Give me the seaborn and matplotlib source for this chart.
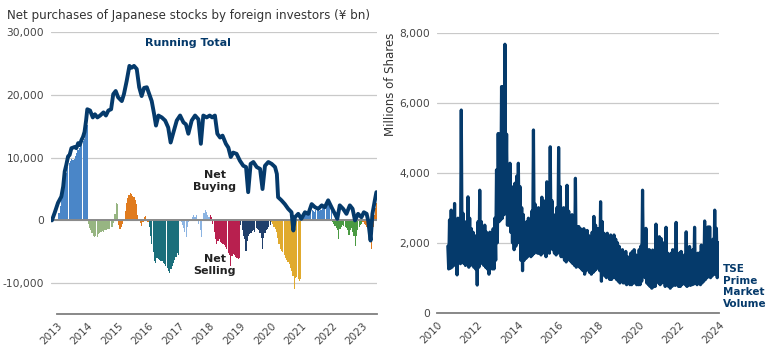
import matplotlib
matplotlib.use('Agg')
import matplotlib.pyplot as plt
import matplotlib.ticker as mticker
import numpy as np
import pandas as pd
import seaborn as sns

sns.set_style('white')
plt.rcParams['font.family'] = ['DejaVu Sans']

NAVY = '#053a6b'
GRID = '#c9c9c9'
AXIS = '#7f7f7f'
TXT = '#454545'

# --- left panel: cumulative net purchases within each calendar year (¥ bn), two readings per month
cum_2013 = [300, 1200, 2300, 3200, 4300, 5500, 6800, 7600, 8500, 9200, 9500, 9700,
            9600, 9800, 10200, 10800, 11200, 11500, 11800, 12200, 12600, 13000, 14000, 15200]
cum_2014 = [-600, -1200, -1600, -2000, -2400, -2700, -2500, -2600, -2200, -2000, -1900, -1700,
            -1800, -1600, -1500, -1400, -1300, -1400, -1100, -1000, -400, 1000, 2800, 2600]
cum_2015 = [-800, -1400, -1000, -500, -100, 1500, 2800, 3500, 4000, 4300, 4200, 3900,
            3700, 3300, 2600, 800, 100, -400, -900, -200, 500, 700, 100, -300]
cum_2016 = [-1000, -2500, -3800, -5000, -6500, -6700, -6000, -6200, -6300, -6500, -6500, -6800,
            -7000, -7200, -7600, -8000, -8400, -7800, -7200, -6800, -6300, -5800, -5200, -5500]
cum_2017 = [200, -300, -700, -1200, -1800, -2600, -1000, -200, 200, 300, 600, 800,
            500, 900, 300, -500, -1500, -2700, 200, 1200, 1600, 1300, 900, 600]
cum_2018 = [900, 600, -500, -1800, -3000, -3800, -3300, -2900, -3400, -3600, -3700, -3900,
            -4200, -4600, -5200, -5500, -7200, -5600, -5400, -5500, -5900, -6000, -6200, -6000]
cum_2019 = [-800, -1600, -2400, -3000, -4900, -3200, -2500, -2200, -2000, -1700, -1500, -1800,
            -1200, -1300, -1600, -2000, -2800, -4600, -2800, -2000, -1600, -1300, -1000, -800]
cum_2020 = [-300, -600, -1000, -1400, -1800, -2800, -3800, -4500, -4800, -5000, -5500, -6000,
            -6300, -6600, -7000, -7500, -8000, -8800, -10900, -9200, -9000, -9400, -9600, -9300]
cum_2021 = [200, 500, 800, 1000, 1200, 1500, 1800, 2000, 1700, 1500, 1400, 1600,
            1800, 1700, 1500, 1700, 2000, 2300, 2200, 2400, 2800, 2600, 2200, 1500]
cum_2022 = [-300, -600, -900, -1200, -1500, -3000, -1400, -1000, -800, -900, -1000, -1200,
            -1600, -2300, -1500, -1200, -1800, -2500, -4000, -2500, -1500, -1000, -800, -600]
cum_2023 = [-200, -500, -800, -1000, -700, -1200, -2500, -4500, -1000, 800, 2000, 2800]

year_series = {2013: cum_2013, 2014: cum_2014, 2015: cum_2015, 2016: cum_2016,
               2017: cum_2017, 2018: cum_2018, 2019: cum_2019, 2020: cum_2020,
               2021: cum_2021, 2022: cum_2022, 2023: cum_2023}
year_colors = {'2013': '#4a86c8', '2014': '#97b582', '2015': '#e07b1e', '2016': '#1b6f7b',
               '2017': '#8cb4e2', '2018': '#b8204f', '2019': '#203f6b', '2020': '#e0aa2e',
               '2021': '#4a86c8', '2022': '#4a9a42', '2023': '#e07b1e'}

# running total of net purchases (¥ bn)
rt_years = [2012.83, 2012.92, 2013.03, 2013.14, 2013.20, 2013.25, 2013.30, 2013.36, 2013.41,
            2013.47, 2013.58, 2013.63, 2013.69, 2013.74, 2013.80, 2013.85, 2013.90, 2013.95,
            2013.99, 2014.08, 2014.17, 2014.24, 2014.32, 2014.41, 2014.52, 2014.60, 2014.68,
            2014.77, 2014.84, 2014.92, 2015.00, 2015.12, 2015.19, 2015.28, 2015.37, 2015.44,
            2015.52, 2015.61, 2015.69, 2015.77, 2015.85, 2015.94, 2016.02, 2016.10, 2016.18,
            2016.24, 2016.32, 2016.43, 2016.54, 2016.64, 2016.72, 2016.81, 2016.92, 2017.03,
            2017.14, 2017.22, 2017.30, 2017.41, 2017.52, 2017.63, 2017.71, 2017.79, 2017.90,
            2018.00, 2018.08, 2018.17, 2018.25, 2018.34, 2018.42, 2018.53, 2018.61, 2018.69,
            2018.77, 2018.88, 2018.99, 2019.10, 2019.19, 2019.26, 2019.34, 2019.43, 2019.54,
            2019.65, 2019.73, 2019.81, 2019.92, 2020.03, 2020.14, 2020.20, 2020.24, 2020.35,
            2020.46, 2020.57, 2020.68, 2020.74, 2020.79, 2020.90, 2021.00, 2021.12, 2021.23,
            2021.34, 2021.45, 2021.56, 2021.67, 2021.77, 2021.88, 2021.99, 2022.10, 2022.18,
            2022.26, 2022.37, 2022.48, 2022.59, 2022.68, 2022.76, 2022.86, 2022.97, 2023.05,
            2023.14, 2023.19, 2023.27, 2023.33, 2023.41, 2023.46]
rt_values = [0, 1200, 2800, 3800, 5400, 7800, 8800, 10200, 10400,
             11500, 11700, 11500, 12300, 12000, 12800, 13300, 14100, 15900,
             17700, 17500, 16400, 16900, 16400, 16700, 17200, 16700, 17500,
             17700, 20100, 20600, 19600, 19000, 20100, 22200, 24600, 24300,
             24600, 24100, 21200, 19800, 21100, 21200, 20100, 19000, 16900,
             15100, 16700, 16400, 15900, 14800, 12400, 14000, 15900, 16700,
             15600, 15300, 13800, 15900, 16700, 16100, 12200, 16700, 16400,
             16700, 16400, 16700, 13800, 13200, 13500, 12200, 11600, 10100,
             10800, 10600, 9500, 8700, 8500, 4500, 9000, 9300, 8500,
             8200, 5000, 8700, 9300, 9000, 8500, 7400, 3700, 3200,
             2600, 1850, 1300, -1600, 500, 1050, 250, 1300, 1050,
             2600, 2100, 1850, 2400, 2100, 3200, 2100, 1050, 250,
             2400, 1850, 1050, 2400, 1850, 0, 1050, 500, 1300,
             1050, 0, -3200, 1050, 3200, 4500]

# --- right panel: TSE Prime market volume (millions of shares), monthly high / low, Jul 2010 - Dec 2023
vol_high = [1900, 2650, 2930, 2400, 3120, 2600,
            2700, 2400, 5790, 2840, 2500, 2600, 3310, 2700, 2400, 2300, 2200, 2100,
            2600, 3500, 2600, 2400, 2500, 2300, 2100, 2300, 2000, 2400, 2700, 4080,
            5120, 5100, 6460, 6460, 7670, 5100, 3800, 4270, 3600, 3500, 3700, 3900,
            4270, 3600, 3000, 2800, 2500, 2600, 2700, 2500, 2900, 5220, 3100, 2900,
            3000, 2800, 3300, 3200, 2900, 3740, 3300, 4740, 3200, 2800, 2600, 3000,
            4720, 3600, 2900, 3000, 2900, 3640, 2900, 2400, 2800, 2600, 3840, 2460,
            2460, 2400, 2300, 2400, 2300, 2350, 2200, 2100, 2300, 2750, 2500, 2400,
            2400, 3170, 2600, 2270, 2000, 2270, 2100, 2220, 1900, 2220, 2100, 2000,
            1900, 1750, 1800, 1700, 1750, 1600, 1550, 1700, 1750, 1800, 1650, 1600,
            1800, 1900, 3500, 2000, 2410, 1790, 1800, 1700, 1790, 1700, 2530, 2000,
            2170, 2120, 2000, 1700, 2440, 1700, 1500, 1700, 1800, 1650, 2580, 1600,
            1700, 1750, 1600, 1650, 2310, 1600, 1890, 1500, 1800, 2440, 1600, 1700,
            1700, 1930, 1800, 2620, 2000, 2450, 2450, 2000, 2100, 2930, 2410, 2000]
vol_low = [1250, 1270, 1300, 1350, 1400, 1080,
           1450, 1400, 1500, 1410, 1350, 1400, 1300, 1350, 1400, 1300, 1250, 790,
           1300, 1400, 1500, 1350, 1300, 1250, 1100, 1300, 1250, 1250, 1500, 2000,
           2600, 2650, 2700, 2800, 3000, 2500, 2500, 2300, 2000, 1800, 1900, 2000,
           2000, 1500, 1200, 1500, 1550, 1600, 1700, 1600, 1650, 1700, 1800, 1700,
           1700, 1650, 1800, 1700, 1600, 1750, 1700, 1850, 1800, 1700, 1650, 1700,
           1900, 1600, 1600, 1500, 1450, 1600, 1500, 1450, 1400, 1350, 1300, 1400,
           1300, 1250, 1200, 1100, 1200, 1250, 1150, 1100, 1150, 1200, 1250, 1300,
           1200, 900, 1100, 1050, 1000, 1050, 950, 950, 1000, 1000, 950, 900,
           850, 900, 850, 850, 800, 850, 800, 800, 850, 850, 800, 800,
           800, 900, 1200, 1000, 850, 800, 750, 700, 740, 750, 900, 850,
           800, 850, 900, 750, 800, 750, 700, 750, 800, 780, 800, 750,
           750, 800, 850, 800, 750, 800, 780, 800, 820, 850, 800, 850,
           800, 850, 900, 950, 1000, 1100, 1000, 1050, 1100, 1100, 1000, 1300]

# build tidy frames
bar_rows = []
for yr, vals in year_series.items():
    for i, v in enumerate(vals):
        bar_rows.append({'t': yr + (i + 0.5) / 24, 'v': v, 'year': str(yr)})
bars = pd.DataFrame(bar_rows)

months = pd.date_range('2010-07-01', periods=len(vol_high), freq='MS')
mdec = months.year + (months.month - 1) / 12
vol = pd.DataFrame({'t': np.concatenate([mdec + 0.25 / 12, mdec + 0.75 / 12]),
                    'v': vol_high + vol_low}).sort_values('t')

fmt = mticker.FuncFormatter(lambda v, p: f'{int(v):,}')

fig = plt.figure(figsize=(7.7, 3.59), dpi=100)
ax1 = fig.add_axes([0.0662, 0.1253, 0.4234, 0.7856])
ax2 = fig.add_axes([0.568, 0.129, 0.3662, 0.7799])

# left
sns.barplot(data=bars, x='t', y='v', hue='year', palette=year_colors, native_scale=True,
            dodge=False, width=0.92, errorbar=None, legend=False, linewidth=0,
            saturation=1, ax=ax1)
ax1.axhline(0, color='#8a8a8a', lw=1.4, zorder=2)
sns.lineplot(x=rt_years, y=rt_values, color=NAVY, linewidth=2.8, ax=ax1, zorder=3)
ax1.set_xlim(2012.8, 2023.48)
ax1.set_ylim(-14900, 30000)
ax1.set_yticks([-10000, 0, 10000, 20000, 30000])
ax1.set_xticks(range(2013, 2024))
ax1.set_xticklabels([str(y) for y in range(2013, 2024)])
ax1.spines['bottom'].set_bounds(2013, 2023.48)

ax1.text(2017.29, 28300, 'Running Total', color=NAVY, fontsize=8, fontweight='bold',
         ha='center', va='center')
ax1.text(2018.17, 6350, 'Net\nBuying', color='#222222', fontsize=8, fontweight='bold',
         ha='center', va='center', linespacing=1.25)
ax1.text(2018.17, -7140, 'Net\nSelling', color='#222222', fontsize=8, fontweight='bold',
         ha='center', va='center', linespacing=1.25)

# right
sns.lineplot(data=vol, x='t', y='v', color=NAVY, linewidth=2.3, ax=ax2, sort=False)
ax2.set_xlim(2010, 2024)
ax2.set_ylim(0, 8000)
ax2.set_yticks(range(0, 8001, 2000))
ax2.set_xticks(range(2010, 2025, 2))
ax2.set_xticklabels([str(y) for y in range(2010, 2025, 2)])
ax2.spines['bottom'].set_bounds(2010, 2024)
ax2.set_ylabel('Millions of Shares', fontsize=8.5, color='#333333', loc='top', labelpad=2)
ax2.text(2024.18, 750, 'TSE\nPrime\nMarket\nVolume', color=NAVY, fontsize=7.5,
         fontweight='bold', ha='left', va='center', linespacing=1.2, clip_on=False)

for ax in (ax1, ax2):
    ax.set_xlabel('')
    if ax is ax1:
        ax.set_ylabel('')
    ax.yaxis.set_major_formatter(fmt)
    ax.yaxis.grid(True, color=GRID, lw=0.9)
    ax.xaxis.grid(False)
    ax.set_axisbelow(True)
    for s in ('top', 'right', 'left'):
        ax.spines[s].set_visible(False)
    ax.spines['bottom'].set_color(AXIS)
    ax.spines['bottom'].set_linewidth(1.3)
    ax.tick_params(axis='x', direction='out', length=4, width=1.1, color=AXIS,
                   labelsize=7.5, labelcolor=TXT, pad=1)
    ax.tick_params(axis='y', length=0, labelsize=7.7, labelcolor=TXT, pad=5)
    plt.setp(ax.get_xticklabels(), rotation=45, ha='right', rotation_mode='anchor')

fig.text(0.009, 0.957, 'Net purchases of Japanese stocks by foreign investors (¥ bn)',
         fontsize=8.6, color='#333333', ha='left', va='center')

fig.savefig('out.png', dpi=100)
